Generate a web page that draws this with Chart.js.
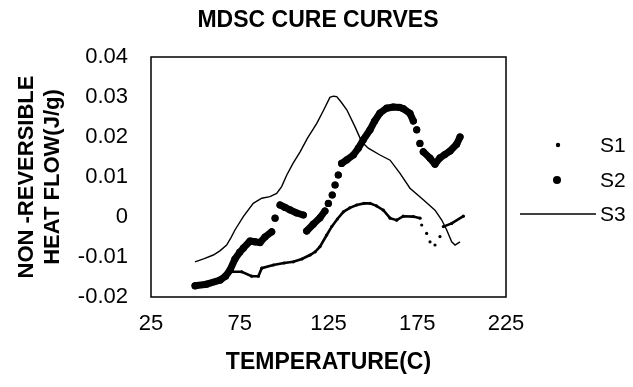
<!DOCTYPE html>
<html>
<head>
<meta charset="utf-8">
<script src="https://cdn.jsdelivr.net/npm/chart.js@4/dist/chart.umd.min.js"></script>
<style>
  html, body { margin: 0; padding: 0; background: #fff; }
  #wrap { width: 633px; height: 387px; }
</style>
</head>
<body>
<div id="wrap"><canvas id="cureChart" width="633" height="387"></canvas></div>
<script>
// dados (null = quebra na linha)
const s1X = [50, 56, 62, 66, 69.5, 76.1, 81.7, 85.5, 87.4, 93.9, 100, 105.2, 110, 114.6, 117.5, 120.2, 124, 126.8, 130, 133.4, 137, 140.9, 145, 148.4, 152, 155.9, 159.7, 163.4, 167.1, 172.8, 176.6,
  null, 177.5, null, 180.3, null, 182.2, null, 185, null, 187.8, null,
  189.7, 194.4, 201];
const s1Y = [-0.0168, -0.0166, -0.0158, -0.0147, -0.0137, -0.0137, -0.0148, -0.0148, -0.0128, -0.012, -0.0115, -0.0112, -0.0105, -0.0095, -0.0087, -0.0074, -0.0045, -0.0024, -0.0005, 0.0013, 0.0023, 0.003, 0.0034, 0.0034, 0.0028, 0.0017, -0.0003, -0.0008, 0.0002, 0.0001, -0.0003,
  null, -0.002, null, -0.0041, null, -0.0062, null, -0.007, null, -0.0049, null,
  -0.0024, -0.0016, 0.0002];

const s2X = [49.8, 56.4, 63.9, 67, 69.5, 72.3, 75, 77, 80.8, 83.6, 86.4, 89.2, 93,
  null, 94.9, null,
  97.7, 100.5, 103.3, 107.1, 110.8,
  null, 112.7, 116.4, 120.2, 123,
  null, 124.9, null, 127.1, null, 128.7, null, 130.5, null,
  132.4, 135.3, 139, 141.8, 144.6, 148.4, 151, 154, 157.8, 161.5, 165, 167.1, 170.9, 172.8,
  null, 174.7, null, 176.5, null,
  178.4, 182.2, 185, 187.8, 190.5, 193.5, 197.2, 199.1];
const s2Y = [-0.0172, -0.0168, -0.0158, -0.0148, -0.0133, -0.0105, -0.0088, -0.0078, -0.006, -0.0062, -0.0064, -0.005, -0.0037,
  null, -0.0003, null,
  0.003, 0.0024, 0.0018, 0.001, 0.0005,
  null, -0.0035, -0.0018, -0.0002, 0.0015,
  null, 0.0034, null, 0.0055, null, 0.008, null, 0.0105, null,
  0.0134, 0.0143, 0.0155, 0.0172, 0.0193, 0.0218, 0.024, 0.026, 0.0272, 0.0275, 0.0274, 0.0271, 0.0259, 0.024,
  null, 0.0218, null, 0.0184, null,
  0.0163, 0.0147, 0.0132, 0.0148, 0.0156, 0.0165, 0.0182, 0.02];

const s3X = [49.8, 55, 60.1, 64, 67.6, 70, 72.3, 77, 82.6, 87.4, 92, 95.8, 98.6, 101.5, 105, 109, 113, 118.4, 122, 125.8, 127.7, 129.6, 132, 135.3, 139.9, 143.7, 147.4, 154, 159.7, 165.3, 170.9, 178.4, 185, 188.8, 191.6, 194.4, 196.3, 199.1];
const s3Y = [-0.0112, -0.0104, -0.0095, -0.0084, -0.007, -0.0052, -0.00325, 0.0001, 0.0034, 0.0047, 0.0051, 0.0059, 0.0076, 0.0105, 0.0134, 0.0163, 0.0196, 0.0234, 0.0265, 0.0299, 0.0302, 0.0301, 0.0288, 0.0268, 0.0226, 0.0188, 0.0172, 0.0155, 0.0142, 0.0109, 0.0072, 0.0043, 0.0017, -0.00075, -0.00325, -0.0062, -0.007, -0.0062];

const seriesNames = ["S1", "S2", "S3"];
const xTicks = [25, 75, 125, 175, 225];
const yTicks = [-0.02, -0.01, 0, 0.01, 0.02, 0.03, 0.04];

const FONT = "'Liberation Sans', Arial, sans-serif";

function toPoints(xs, ys) {
  return xs.map((x, i) => ({ x: x, y: ys[i] }));
}

// moldura, título e legenda desenhados à mão
const boxAndLegend = {
  id: "boxAndLegend",
  afterDraw(chart) {
    const ctx = chart.ctx;
    const a = chart.chartArea;
    ctx.save();
    ctx.strokeStyle = "#000";
    ctx.lineWidth = 1.5;
    ctx.strokeRect(a.left, a.top, a.right - a.left, a.bottom - a.top);

    ctx.fillStyle = "#000";
    ctx.textBaseline = "middle";
    ctx.textAlign = "center";
    ctx.font = "bold 23px " + FONT;
    ctx.fillText("MDSC CURE CURVES", 318, 21);

    ctx.font = "21px " + FONT;
    ctx.textAlign = "left";
    const rows = [145, 180, 214];
    // S1
    ctx.beginPath();
    ctx.arc(558, rows[0], 2.2, 0, Math.PI * 2);
    ctx.fill();
    // S2
    ctx.beginPath();
    ctx.arc(557, rows[1], 4, 0, Math.PI * 2);
    ctx.fill();
    // S3
    ctx.lineWidth = 1.5;
    ctx.beginPath();
    ctx.moveTo(520, rows[2]);
    ctx.lineTo(596, rows[2]);
    ctx.stroke();
    seriesNames.forEach((n, i) => ctx.fillText(n, 600, rows[i] + 1));
    ctx.restore();
  }
};

const cureCtx = document.getElementById("cureChart").getContext("2d");
new Chart(cureCtx, {
  type: "scatter",
  data: {
    datasets: [
      {
        label: seriesNames[0],
        data: toPoints(s1X, s1Y),
        showLine: true,
        borderColor: "#000",
        backgroundColor: "#000",
        borderWidth: 2.6,
        pointRadius: 1.6,
        pointBorderWidth: 0,
        spanGaps: false,
      },
      {
        label: seriesNames[1],
        data: toPoints(s2X, s2Y),
        showLine: true,
        borderColor: "#000",
        backgroundColor: "#000",
        borderWidth: 7,
        borderCapStyle: "round",
        borderJoinStyle: "round",
        pointRadius: 3.6,
        pointBorderWidth: 0,
        spanGaps: false,
      },
      {
        label: seriesNames[2],
        data: toPoints(s3X, s3Y),
        showLine: true,
        borderColor: "#000",
        borderWidth: 1.4,
        pointRadius: 0,
      },
    ],
  },
  options: {
    responsive: false,
    animation: false,
    layout: { padding: { left: 0, top: 57, right: 127, bottom: 0 } },
    plugins: {
      legend: { display: false },
      tooltip: { enabled: false },
      title: { display: false },
    },
    scales: {
      x: {
        type: "linear",
        min: xTicks[0],
        max: xTicks[xTicks.length - 1],
        afterBuildTicks: (s) => { s.ticks = xTicks.map((v) => ({ value: v })); },
        afterFit: (s) => { s.height = 90; },
        grid: { display: false, drawTicks: false },
        border: { display: false },
        ticks: {
          color: "#000",
          padding: 14,
          font: { family: FONT, size: 22 },
        },
        title: {
          display: true,
          text: "TEMPERATURE(C)",
          color: "#000",
          font: { family: FONT, size: 23, weight: "bold" },
          padding: { top: 0, bottom: 11 },
        },
      },
      y: {
        type: "linear",
        min: yTicks[0],
        max: yTicks[yTicks.length - 1],
        afterBuildTicks: (s) => { s.ticks = yTicks.map((v) => ({ value: v })); },
        afterFit: (s) => { s.width = 151; },
        grid: { display: false, drawTicks: false },
        border: { display: false },
        ticks: {
          color: "#000",
          padding: 23,
          font: { family: FONT, size: 22 },
          callback: (v) => String(+v.toFixed(2)),
        },
        title: {
          display: true,
          text: ["NON -REVERSIBLE", "HEAT FLOW(J/g)"],
          color: "#000",
          font: { family: FONT, size: 22, weight: "bold", lineHeight: 1.17 },
          padding: { top: 14, bottom: 0 },
        },
      },
    },
  },
  plugins: [boxAndLegend],
});
</script>
</body>
</html>
